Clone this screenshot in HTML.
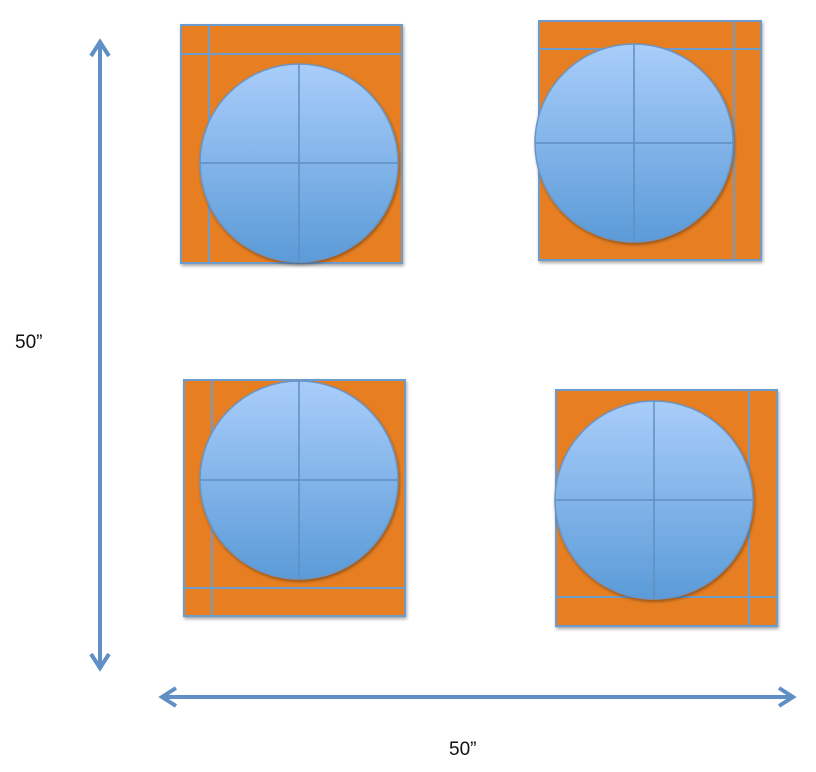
<!DOCTYPE html>
<html><head><meta charset="utf-8"><style>
html,body{margin:0;padding:0;background:#fff;width:816px;height:772px;overflow:hidden}
svg{display:block}
text{font-family:"Liberation Sans",sans-serif;font-size:19px;fill:#111}
</style></head><body>
<svg width="816" height="772" viewBox="0 0 816 772">
<defs>
<linearGradient id="g" x1="0" y1="0" x2="0" y2="1">
<stop offset="0" stop-color="#a9cdfa"/><stop offset="1" stop-color="#5b9bd8"/>
</linearGradient>
<filter id="sh" x="-10%" y="-10%" width="130%" height="130%"><feDropShadow dx="1" dy="2" stdDeviation="1.5" flood-opacity="0.35"/></filter>
</defs>
<g id="units"></g>
<g stroke="#5f8fc4" stroke-width="4" fill="none">
<line x1="100" y1="46" x2="100" y2="664"/>
<polyline points="91,56 100,42 109,56"/><polyline points="91,654 100,668 109,654"/>
</g>
<g stroke="#5f8fc4" stroke-width="4" fill="none">
<line x1="166" y1="697" x2="789" y2="697"/>
<polyline points="176,688 162,697 176,706"/><polyline points="779,688 793,697 779,706"/>
</g>
<text x="15" y="348">50”</text>
<text x="449" y="755">50”</text>
</svg>
<script>
var units=[
 {x:181,y:25,w:221,h:238,vx:209,hy:54,cx:299,cy:163},
 {x:539,y:21,w:222,h:239,vx:734,hy:49,cx:634,cy:143},
 {x:184,y:380,w:221,h:236,vx:212,hy:588,cx:299,cy:480},
 {x:556,y:390,w:221,h:236,vx:749,hy:597,cx:654,cy:500}
];
var NS="http://www.w3.org/2000/svg";
var g=document.getElementById('units');
function mk(t,a,p){var e=document.createElementNS(NS,t);for(var k in a)e.setAttribute(k,a[k]);p.appendChild(e);return e;}
units.forEach(function(u,i){
 var grp=mk('g',{},g);
 
 
 var r=mk('rect',{x:u.x,y:u.y,width:u.w,height:u.h,fill:'#e77f24',stroke:'#6d9ccc','stroke-width':2,filter:'url(#sh)'},grp);
 
 
 mk('line',{x1:u.vx,y1:u.y,x2:u.vx,y2:u.y+u.h,stroke:'#6d9ccc','stroke-width':2},grp);
 mk('line',{x1:u.x,y1:u.hy,x2:u.x+u.w,y2:u.hy,stroke:'#6d9ccc','stroke-width':2},grp);
 var c=mk('circle',{cx:u.cx,cy:u.cy,r:99,fill:'url(#g)',stroke:'#6a95c4','stroke-width':1.5,filter:'url(#sh)'},grp);
 
 
 mk('line',{x1:u.cx,y1:u.cy-99,x2:u.cx,y2:u.cy+99,stroke:'#5f8fc0','stroke-width':1.5},grp);
 mk('line',{x1:u.cx-99,y1:u.cy,x2:u.cx+99,y2:u.cy,stroke:'#5f8fc0','stroke-width':1.5},grp);
});
</script>
</body></html>
